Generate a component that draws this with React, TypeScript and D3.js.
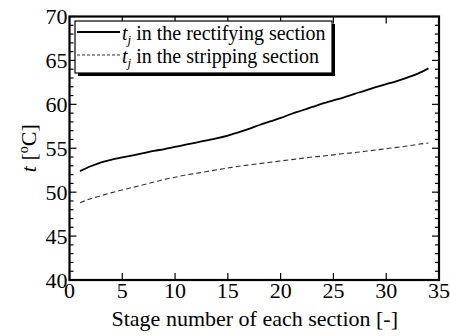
import React, { useRef, useEffect } from 'react';
import * as d3 from 'd3';

// stage numbers 1..34
const stages = [1, 2, 3, 4, 5, 6, 7, 8, 9, 10, 11, 12, 13, 14, 15, 16, 17, 18, 19, 20, 21, 22, 23, 24, 25, 26, 27, 28, 29, 30, 31, 32, 33, 34];

const rectifying = [52.4, 52.95, 53.4, 53.7, 53.95, 54.2, 54.45, 54.7, 54.9, 55.15, 55.4, 55.65, 55.9, 56.15, 56.45, 56.8, 57.2, 57.65, 58.05, 58.45, 58.9, 59.3, 59.7, 60.1, 60.45, 60.8, 61.2, 61.55, 61.95, 62.3, 62.65, 63.05, 63.5, 64.1];

const stripping = [48.8, 49.25, 49.6, 49.95, 50.25, 50.55, 50.85, 51.15, 51.45, 51.7, 51.95, 52.15, 52.35, 52.55, 52.75, 52.95, 53.1, 53.25, 53.4, 53.55, 53.7, 53.85, 54.0, 54.1, 54.25, 54.4, 54.5, 54.65, 54.8, 54.95, 55.1, 55.25, 55.45, 55.6];

const xTicks = [0, 5, 10, 15, 20, 25, 30, 35];
const yTicks = [40, 45, 50, 55, 60, 65, 70];
const yMinorTicks = d3.range(40, 71, 1);

const seriesNames = ['in the rectifying section', 'in the stripping section'];

const FONT = "'Liberation Serif', 'DejaVu Serif', 'Times New Roman', Times, serif";

const App = () => {
    const ref = useRef<SVGSVGElement>(null);

    useEffect(() => {
        const root = d3.select(ref.current);
        root.selectAll('*').remove();

        const width = 450, height = 336;
        const left = 69.5, right = 439, top = 16.5, bottom = 280;

        const x = d3.scaleLinear().domain([0, 35]).range([left, right]);
        const y = d3.scaleLinear().domain([40, 70]).range([bottom, top]);

        root.attr('width', width).attr('height', height);
        root.append('rect').attr('width', width).attr('height', height).attr('fill', '#fff');

        // lines
        const line = d3.line<number>()
            .x((d, i) => x(stages[i]))
            .y(d => y(d))
            .curve(d3.curveMonotoneX);

        root.append('path')
            .datum(rectifying)
            .attr('fill', 'none')
            .attr('stroke', '#000')
            .attr('stroke-width', 1.8)
            .attr('d', line);

        root.append('path')
            .datum(stripping)
            .attr('fill', 'none')
            .attr('stroke', '#333')
            .attr('stroke-width', 1.1)
            .attr('stroke-dasharray', '5,3')
            .attr('d', line);

        // ticks (inward)
        const ticks = root.append('g').attr('stroke', '#000').attr('stroke-width', 1.2);
        yMinorTicks.forEach(v => {
            const len = v % 5 === 0 ? 7 : 4;
            ticks.append('line').attr('x1', left).attr('x2', left + len).attr('y1', y(v)).attr('y2', y(v));
            ticks.append('line').attr('x1', right).attr('x2', right - len).attr('y1', y(v)).attr('y2', y(v));
        });
        xTicks.forEach(v => {
            ticks.append('line').attr('x1', x(v)).attr('x2', x(v)).attr('y1', bottom).attr('y2', bottom - 7);
            ticks.append('line').attr('x1', x(v)).attr('x2', x(v)).attr('y1', top).attr('y2', top + 7);
        });

        // frame
        root.append('rect')
            .attr('x', left).attr('y', top)
            .attr('width', right - left).attr('height', bottom - top)
            .attr('fill', 'none').attr('stroke', '#000').attr('stroke-width', 2.2);

        // tick labels
        root.append('g').selectAll('text').data(xTicks).join('text')
            .attr('x', d => x(d)).attr('y', 298)
            .attr('text-anchor', 'middle')
            .style('font-family', FONT).attr('font-size', 22)
            .text(d => d);

        root.append('g').selectAll('text').data(yTicks).join('text')
            .attr('x', left - 2).attr('y', d => y(d) + 7.5)
            .attr('text-anchor', 'end')
            .style('font-family', FONT).attr('font-size', 22)
            .text(d => d);

        // axis titles
        root.append('text')
            .attr('x', (left + right) / 2 + 0.5).attr('y', 326)
            .attr('text-anchor', 'middle')
            .style('font-family', FONT).attr('font-size', 22)
            .text('Stage number of each section [-]');

        const yl = root.append('text')
            .attr('transform', `translate(36, ${(top + bottom) / 2}) rotate(-90)`)
            .attr('text-anchor', 'middle')
            .style('font-family', FONT).attr('font-size', 22);
        yl.append('tspan').attr('font-style', 'italic').text('t');
        yl.append('tspan').text(' [');
        yl.append('tspan').attr('font-size', 14).attr('dy', -8).text('o');
        yl.append('tspan').attr('dy', 8).text('C]');

        // legend
        const lx = 75, ly = 21, lw = 257, lh = 52;
        root.append('rect').attr('x', lx + 3).attr('y', ly + 3).attr('width', lw).attr('height', lh).attr('fill', '#000');
        root.append('rect').attr('x', lx).attr('y', ly).attr('width', lw).attr('height', lh).attr('fill', '#fff');

        root.append('clipPath').attr('id', 'legclip')
            .append('rect').attr('x', lx).attr('y', ly).attr('width', lw).attr('height', lh);

        const leg = root.append('g').attr('clip-path', 'url(#legclip)');
        const rows = [40, 63];
        seriesNames.forEach((name, i) => {
            leg.append('line')
                .attr('x1', 77).attr('x2', 120)
                .attr('y1', rows[i] - 8).attr('y2', rows[i] - 8)
                .attr('stroke', i === 0 ? '#000' : '#333')
                .attr('stroke-width', i === 0 ? 1.8 : 1.1)
                .attr('stroke-dasharray', i === 0 ? null : '3,2');
            const t = leg.append('text')
                .attr('x', 122).attr('y', rows[i])
                .style('font-family', FONT).attr('font-size', 20);
            t.append('tspan').attr('font-style', 'italic').text('t');
            t.append('tspan').attr('font-style', 'italic').attr('font-size', 13).attr('dy', 4).text('j');
            t.append('tspan').attr('dy', -4).text(' ' + name);
        });

        root.append('rect').attr('x', lx).attr('y', ly).attr('width', lw).attr('height', lh)
            .attr('fill', 'none').attr('stroke', '#000').attr('stroke-width', 1.2);
    }, []);

    return (
        <div style={{ position: 'absolute', left: 0, top: 0 }}>
            <svg ref={ref} style={{ display: 'block' }} />
        </div>
    );
};

export default App;
